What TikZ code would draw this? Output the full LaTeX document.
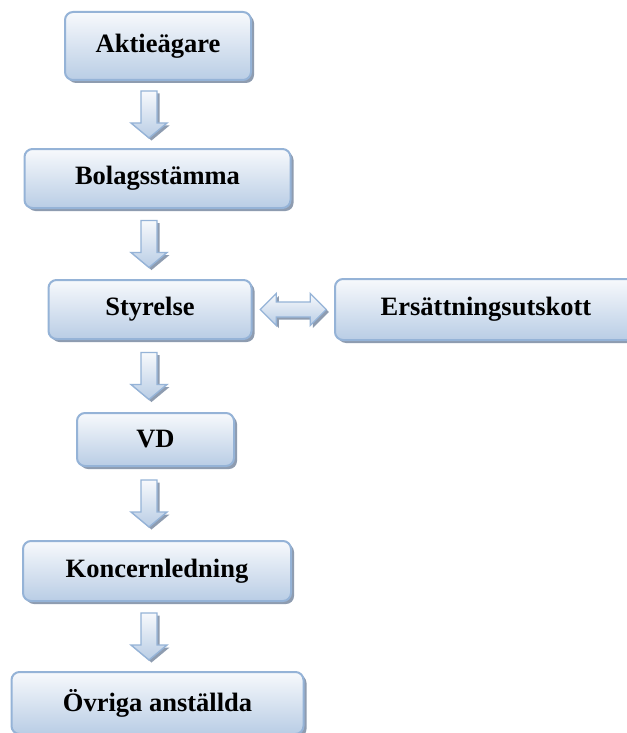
\documentclass[tikz,border=0pt]{standalone}
\usepackage{fontspec}
\setmainfont{Liberation Serif}
\usetikzlibrary{calc}
\definecolor{boxline}{HTML}{95B3D7}
\definecolor{boxtop}{HTML}{F7F9FC}
\definecolor{boxbot}{HTML}{B9CDE5}
\definecolor{shad}{HTML}{8E9CB0}
\tikzset{
  orgbox/.style={rectangle, rounded corners=8pt, draw=boxline, line width=2pt,
    top color=boxtop, bottom color=boxbot, inner sep=0pt,
    font=\fontsize{26.5}{30}\selectfont\bfseries, text=black},
  boxshadow/.style={rectangle, rounded corners=8pt, fill=shad, draw=none, inner sep=0pt},
  arrline/.style={draw=boxline, line width=1.4pt, top color=boxtop, bottom color=boxbot},
  arrshad/.style={fill=shad, draw=none},
  downarr/.pic={
    \path[arrshad,shift={(2.5,2.5)}] (-8,-23.5) -- (8,-23.5) -- (8,8.5) -- (18,8.5) -- (0,23.5) -- (-18,8.5) -- (-8,8.5) -- cycle;
    \path[arrline] (-8,-23.5) -- (8,-23.5) -- (8,8.5) -- (18,8.5) -- (0,23.5) -- (-18,8.5) -- (-8,8.5) -- cycle;
  },
  dblarr/.pic={
    \path[arrshad,shift={(2.5,2.5)}] (-33,0) -- (-17,-16) -- (-17,-7.5) -- (17,-7.5) -- (17,-16) -- (33,0) -- (17,16) -- (17,7.5) -- (-17,7.5) -- (-17,16) -- cycle;
    \path[arrline] (-33,0) -- (-17,-16) -- (-17,-7.5) -- (17,-7.5) -- (17,-16) -- (33,0) -- (17,16) -- (17,7.5) -- (-17,7.5) -- (-17,16) -- cycle;
  }
}
\newcommand{\orgnode}[6]{% name, cx, cy, w, h, text
  \node[boxshadow, minimum width=#4pt, minimum height=#5pt] at (#2+3,#3+3) {};
  \node[orgbox, minimum width=#4pt, minimum height=#5pt] (#1) at (#2,#3) {#6};
}
\begin{document}
\begin{tikzpicture}[x=1pt,y=-1pt]
\useasboundingbox[fill=white] (0,0) rectangle (626,733);
\orgnode{akt}{158}{46}{186}{68}{Aktieägare}
\orgnode{bol}{157.5}{178.5}{266}{59}{Bolagsstämma}
\orgnode{sty}{150}{309.5}{203}{59}{Styrelse}
\orgnode{ers}{486}{309.5}{302}{61}{Ersättningsutskott}
\orgnode{vd}{155.5}{439.5}{157}{53}{VD}
\orgnode{kon}{157}{571}{268}{60}{Koncernledning}
\orgnode{ovr}{157.5}{703}{292}{62}{Övriga anställda}
\coordinate (ax) at (149,0);
\coordinate (m1) at ($(akt.south)!.5!(bol.north)$);
\coordinate (m2) at ($(bol.south)!.5!(sty.north)$);
\coordinate (m3) at ($(sty.south)!.5!(vd.north)$);
\coordinate (m4) at ($(vd.south)!.5!(kon.north)$);
\coordinate (m5) at ($(kon.south)!.5!(ovr.north)$);
\coordinate (m6) at ($(sty.east)!.5!(ers.west)$);
\pic at (ax |- m1) {downarr};
\pic at (ax |- m2) {downarr};
\pic at (ax |- m3) {downarr};
\pic at (ax |- m4) {downarr};
\pic at (ax |- m5) {downarr};
\pic at (m6) {dblarr};
\end{tikzpicture}
\end{document}
